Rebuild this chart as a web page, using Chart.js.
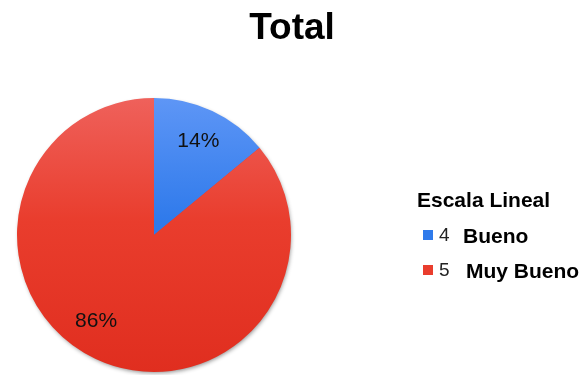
<!DOCTYPE html>
<html>
<head>
<meta charset="utf-8">
<script src="https://cdn.jsdelivr.net/npm/chart.js@4"></script>
<style>
  html, body { margin: 0; padding: 0; background: #fff; }
  #wrap { width: 588px; height: 375px; }
</style>
</head>
<body>
<div id="wrap"><canvas id="canvasTotal" width="588" height="375"></canvas></div>
<script>
// datos
var escalas = ['4', '5'];
var nombres = ['Bueno', 'Muy Bueno'];
var porcentajes = [14, 86];
var tituloLeyenda = 'Escala Lineal';
var titulo = 'Total';

var coloresTop = ['#5e96f6', '#ef615b'];
var coloresMid = ['#2f7aeb', '#e93d2d'];
var coloresBottom = ['#2a70e4', '#e02e1f'];
var FONT = '"Liberation Sans", Arial, sans-serif';

function degradado(context){
	var chart = context.chart;
	var area = chart.chartArea;
	if(!area) return coloresMid[context.dataIndex];
	var ctx = chart.ctx;
	var g = ctx.createLinearGradient(0, area.top, 0, area.bottom);
	g.addColorStop(0, coloresTop[context.dataIndex]);
	g.addColorStop(0.45, coloresMid[context.dataIndex]);
	g.addColorStop(1, coloresBottom[context.dataIndex]);
	return g;
}

// sombra debajo del pastel
var sombraPlugin = {
	id: 'sombra',
	beforeDatasetsDraw: function(chart){
		var arc = chart.getDatasetMeta(0).data[0];
		if(!arc) return;
		var ctx = chart.ctx;
		ctx.save();
		ctx.shadowColor = 'rgba(0,0,0,0.45)';
		ctx.shadowBlur = 4;
		ctx.shadowOffsetX = 1;
		ctx.shadowOffsetY = 2;
		ctx.fillStyle = '#e03424';
		ctx.beginPath();
		ctx.arc(arc.x, arc.y, arc.outerRadius - 1, 0, Math.PI * 2);
		ctx.fill();
		ctx.restore();
	}
};

// porcentajes dentro de cada rebanada
var etiquetasPlugin = {
	id: 'etiquetas',
	afterDatasetsDraw: function(chart){
		var ctx = chart.ctx;
		var meta = chart.getDatasetMeta(0);
		ctx.save();
		ctx.font = '21px ' + FONT;
		ctx.fillStyle = '#111';
		ctx.textAlign = 'center';
		ctx.textBaseline = 'middle';
		meta.data.forEach(function(arc, i){
			var mid = (arc.startAngle + arc.endAngle) / 2;
			var r = arc.outerRadius * 0.76;
			var ajuste = i == 1 ? 0.15 : 0;
			ctx.fillText(porcentajes[i] + '%', arc.x + Math.cos(mid + ajuste) * r, arc.y + Math.sin(mid + ajuste) * r);
		});
		ctx.restore();
	}
};

// titulo y leyenda
var textosPlugin = {
	id: 'textos',
	afterDraw: function(chart){
		var ctx = chart.ctx;
		ctx.save();
		ctx.textBaseline = 'alphabetic';
		ctx.fillStyle = '#000';
		ctx.textAlign = 'center';
		ctx.font = 'bold 37px ' + FONT;
		ctx.fillText(titulo, 292, 39);

		ctx.textAlign = 'left';
		ctx.font = 'bold 21px ' + FONT;
		ctx.fillText(tituloLeyenda, 417, 207);
		escalas.forEach(function(esc, i){
			var y = 243 + i * 35;
			ctx.fillStyle = coloresMid[i];
			ctx.fillRect(423, y - 13, 10, 10);
			ctx.fillStyle = '#222';
			ctx.font = '19px ' + FONT;
			ctx.fillText(esc, 439, y - 2);
			ctx.fillStyle = '#000';
			ctx.font = 'bold 21px ' + FONT;
			ctx.fillText(nombres[i], 463 + i * 3, y);
		});
		ctx.restore();
	}
};

window.onload = function(){
	var ctx = document.getElementById('canvasTotal').getContext('2d');
	window.myPie = new Chart(ctx, {
		type: 'pie',
		data: {
			labels: nombres,
			datasets: [{
				data: porcentajes,
				backgroundColor: degradado,
				borderWidth: 0
			}]
		},
		options: {
			responsive: false,
			animation: false,
			layout: { padding: { left: 17, right: 297, top: 98, bottom: 3 } },
			plugins: {
				legend: { display: false },
				tooltip: { enabled: false },
				title: { display: false }
			}
		},
		plugins: [sombraPlugin, etiquetasPlugin, textosPlugin]
	});
};
</script>
</body>
</html>
